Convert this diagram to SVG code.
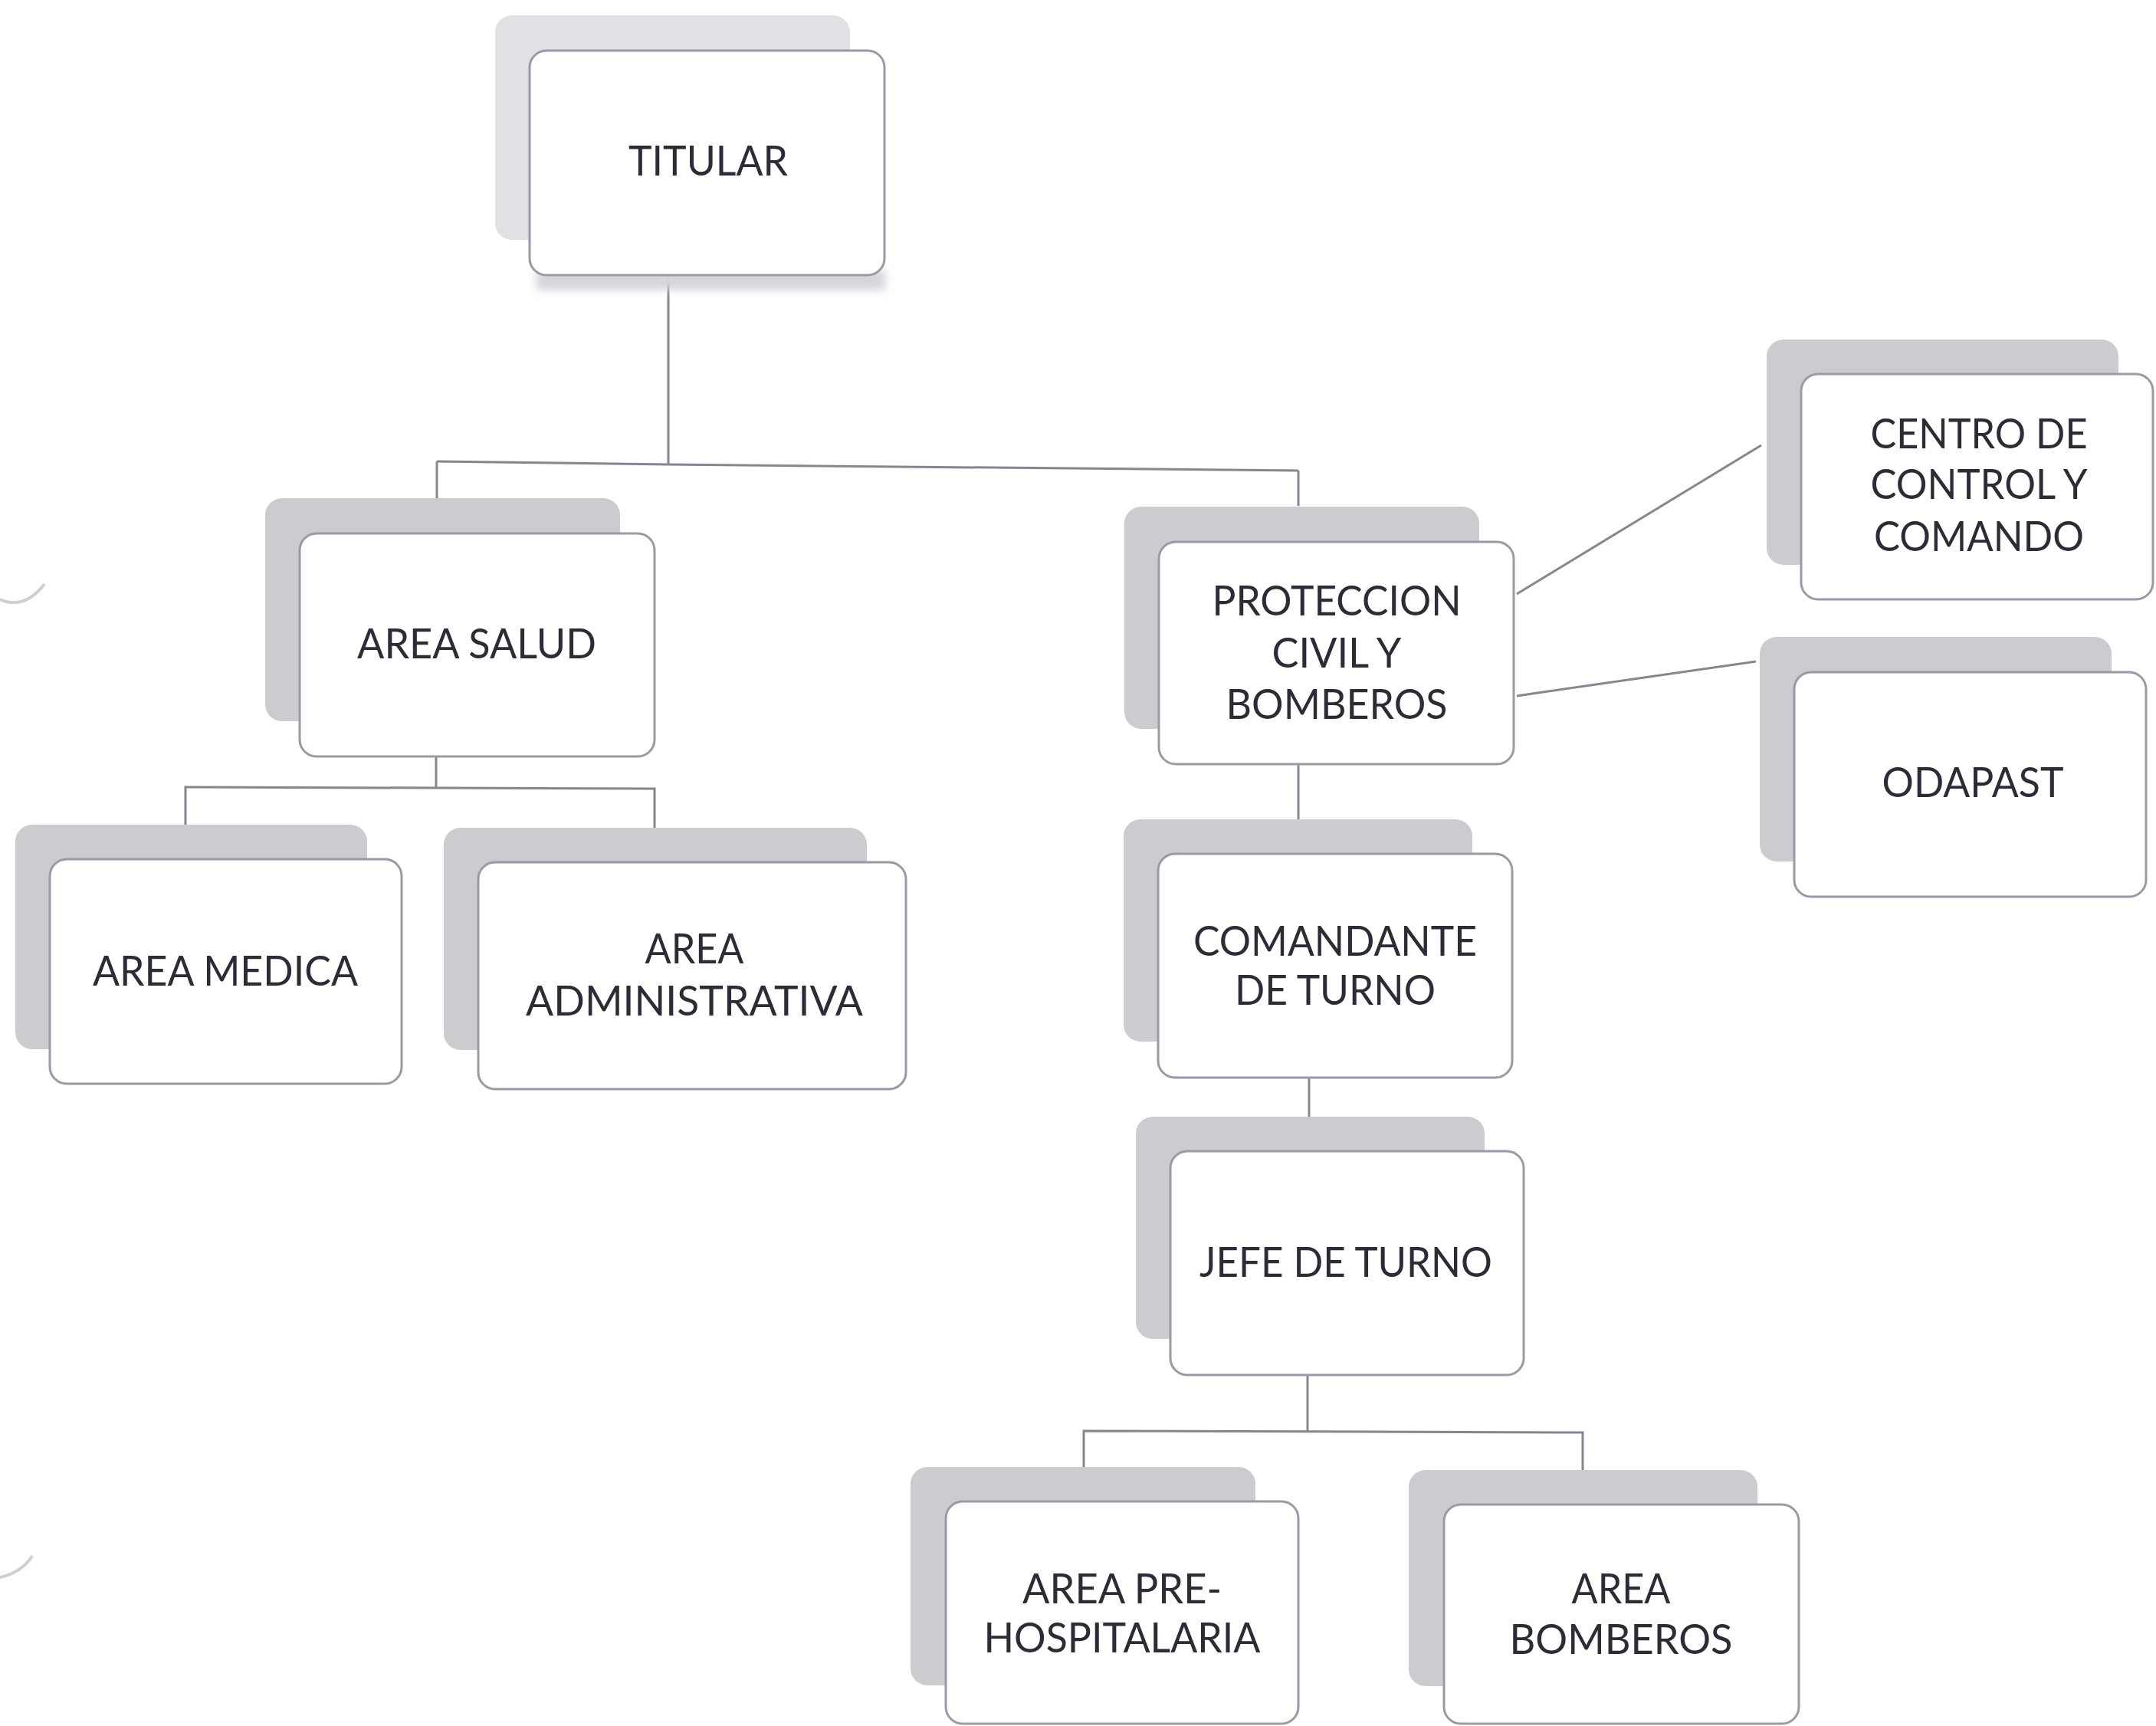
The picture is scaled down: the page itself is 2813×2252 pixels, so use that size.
<svg xmlns="http://www.w3.org/2000/svg" width="2813" height="2252" viewBox="0 0 2813 2252">
<defs>
<style>
.sh{fill:#cbcbd0;}
.shl{fill:#e0e0e5;}
.bx{fill:#ffffff;stroke:#9a9aa6;stroke-width:3;}
.t{font-family:Lato,"Open Sans","Liberation Sans",sans-serif;font-size:54px;fill:#2c2c36;text-anchor:middle;}
.c{fill:none;stroke:#868691;stroke-width:3;}
.art{fill:none;stroke:#cfcfd3;stroke-width:4;}
</style>
<filter id="blur" x="-10%" y="-50%" width="120%" height="200%"><feGaussianBlur stdDeviation="6"/></filter>
</defs>
<rect width="2813" height="2252" fill="#ffffff"/>
<path class="art" d="M0,782 Q32,796 58,762"/>
<path class="art" d="M0,2058 Q28,2052 42,2030"/>
<g id="connectors">
<line class="c" x1="872" y1="359" x2="872" y2="606"/>
<polyline class="c" points="570,602 872,606 1694,614"/>
<line class="c" x1="570" y1="602" x2="570" y2="650"/>
<line class="c" x1="1694" y1="614" x2="1694" y2="660"/>
<line class="c" x1="569" y1="987" x2="569" y2="1028"/>
<polyline class="c" points="242,1076 242,1027 854,1029 854,1080"/>
<line class="c" x1="1694" y1="997" x2="1694" y2="1069"/>
<line class="c" x1="1708" y1="1406" x2="1708" y2="1457"/>
<line class="c" x1="1706" y1="1794" x2="1706" y2="1868"/>
<polyline class="c" points="1414,1916 1414,1867 2065,1869 2065,1918"/>
<line class="c" x1="1979" y1="775" x2="2298" y2="581"/>
<line class="c" x1="1979" y1="908" x2="2291" y2="863" stroke-width="4"/>
</g>
<g id="titular">
<rect class="shl" x="646" y="20" width="463" height="293" rx="22"/>
<rect x="700" y="352" width="455" height="26" fill="#d4d4d9" filter="url(#blur)"/>
<rect class="bx" x="691" y="66" width="463" height="293" rx="22"/>
<text class="t" x="924" y="229" textLength="208" lengthAdjust="spacingAndGlyphs">TITULAR</text>
</g>
<g id="area-salud">
<rect class="sh" x="346" y="650" width="463" height="291" rx="22"/>
<rect class="bx" x="391" y="696" width="463" height="291" rx="22"/>
<text class="t" x="622" y="859" textLength="312" lengthAdjust="spacingAndGlyphs">AREA SALUD</text>
</g>
<g id="proteccion">
<rect class="sh" x="1467" y="661" width="463" height="290" rx="22"/>
<rect class="bx" x="1512" y="707" width="463" height="290" rx="22"/>
<text class="t" x="1744" y="803" textLength="325" lengthAdjust="spacingAndGlyphs">PROTECCION</text>
<text class="t" x="1744" y="871" textLength="169" lengthAdjust="spacingAndGlyphs">CIVIL Y</text>
<text class="t" x="1744" y="938" textLength="289" lengthAdjust="spacingAndGlyphs">BOMBEROS</text>
</g>
<g id="centro">
<rect class="sh" x="2305" y="443" width="459" height="294" rx="22"/>
<rect class="bx" x="2350" y="488" width="459" height="294" rx="22"/>
<text class="t" x="2582" y="585" textLength="283" lengthAdjust="spacingAndGlyphs">CENTRO DE</text>
<text class="t" x="2582" y="651" textLength="283" lengthAdjust="spacingAndGlyphs">CONTROL Y</text>
<text class="t" x="2582" y="719" textLength="274" lengthAdjust="spacingAndGlyphs">COMANDO</text>
</g>
<g id="odapast">
<rect class="sh" x="2296" y="831" width="459" height="293" rx="22"/>
<rect class="bx" x="2341" y="877" width="459" height="293" rx="22"/>
<text class="t" x="2574" y="1040" textLength="237" lengthAdjust="spacingAndGlyphs">ODAPAST</text>
</g>
<g id="area-medica">
<rect class="sh" x="20" y="1076" width="459" height="293" rx="22"/>
<rect class="bx" x="65" y="1121" width="459" height="293" rx="22"/>
<text class="t" x="294" y="1286" textLength="346" lengthAdjust="spacingAndGlyphs">AREA MEDICA</text>
</g>
<g id="area-administrativa">
<rect class="sh" x="579" y="1080" width="552" height="290" rx="22"/>
<rect class="bx" x="624" y="1125" width="558" height="296" rx="22"/>
<text class="t" x="906" y="1257" textLength="129" lengthAdjust="spacingAndGlyphs">AREA</text>
<text class="t" x="906" y="1325" textLength="440" lengthAdjust="spacingAndGlyphs">ADMINISTRATIVA</text>
</g>
<g id="comandante">
<rect class="sh" x="1466" y="1069" width="455" height="290" rx="22"/>
<rect class="bx" x="1511" y="1114" width="462" height="292" rx="22"/>
<text class="t" x="1742" y="1247" textLength="370" lengthAdjust="spacingAndGlyphs">COMANDANTE</text>
<text class="t" x="1742" y="1311" textLength="262" lengthAdjust="spacingAndGlyphs">DE TURNO</text>
</g>
<g id="jefe">
<rect class="sh" x="1482" y="1457" width="455" height="290" rx="22"/>
<rect class="bx" x="1527" y="1502" width="461" height="292" rx="22"/>
<text class="t" x="1756" y="1666" textLength="382" lengthAdjust="spacingAndGlyphs">JEFE DE TURNO</text>
</g>
<g id="pre-hospitalaria">
<rect class="sh" x="1188" y="1914" width="450" height="285" rx="22"/>
<rect class="bx" x="1234" y="1959" width="460" height="290" rx="22"/>
<text class="t" x="1464" y="2092" textLength="260" lengthAdjust="spacingAndGlyphs">AREA PRE-</text>
<text class="t" x="1464" y="2156" textLength="361" lengthAdjust="spacingAndGlyphs">HOSPITALARIA</text>
</g>
<g id="area-bomberos">
<rect class="sh" x="1838" y="1918" width="455" height="282" rx="22"/>
<rect class="bx" x="1884" y="1963" width="463" height="286" rx="22"/>
<text class="t" x="2115" y="2092" textLength="129" lengthAdjust="spacingAndGlyphs">AREA</text>
<text class="t" x="2115" y="2158" textLength="291" lengthAdjust="spacingAndGlyphs">BOMBEROS</text>
</g>
</svg>
